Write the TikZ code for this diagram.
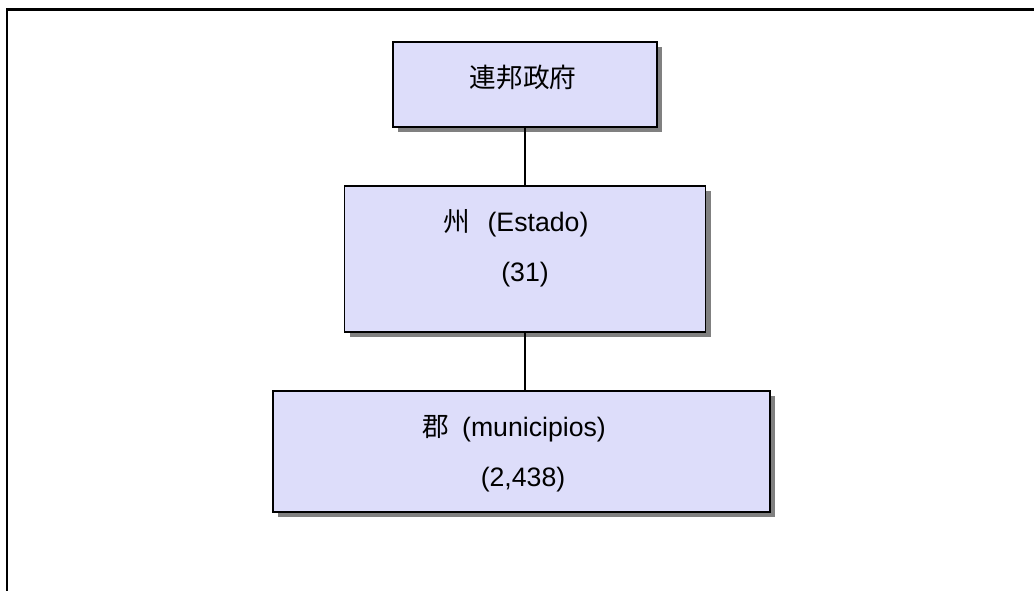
\documentclass[tikz,border=0pt]{standalone}
\usepackage{fontspec}
\setmainfont{Liberation Sans}
\newfontfamily\cjk{Noto Sans CJK JP}
\usetikzlibrary{shadows}
\definecolor{boxfill}{RGB}{221,221,250}
\definecolor{shadegray}{RGB}{128,128,128}
\tikzset{
  orgbox/.style={draw=black, line width=1.4pt, fill=boxfill, inner sep=0pt,
    drop shadow={shadow xshift=3.75pt, shadow yshift=-3.75pt, fill=shadegray, opacity=1}},
  lbl/.style={inner sep=0pt, font=\fontsize{20}{24}\selectfont},
  link/.style={line width=1.2pt},
  framestyle/.style={line width=1.6pt, line cap=rect}
}
\begin{document}
\begin{tikzpicture}[x=0.75pt,y=-0.75pt]
\useasboundingbox (0,0) rectangle (1034,590);
\coordinate (fa) at (7,592);
\coordinate (fb) at (7,9.5);
\coordinate (fc) at (1036,9.5);
\draw[framestyle] (fa) -- (fb) -- (fc);

\node[orgbox, minimum width=198.2pt, minimum height=63.75pt] (b1) at (525,84.5) {};
\node[orgbox, minimum width=270.75pt, minimum height=110pt] (b2) at (525,259) {};
\node[orgbox, minimum width=373pt, minimum height=90.75pt] (b3) at (521.3,451.5) {};

\draw[link] (b1.south) -- (b2.north);
\draw[link] (b2.south) -- (b2.south |- b3.north);

\node[lbl] (t1) at (523,77) {\cjk 連邦政府};
\node[lbl] (t2a) at (516,223) {{\cjk 州}\hspace{13pt}(Estado)};
\node[lbl] (t2b) at (525,275) {(31)};
\node[lbl] (t3a) at (514,429) {{\cjk 郡}\hspace{10pt}(municipios)};
\node[lbl] (t3b) at (523,480) {(2,438)};
\end{tikzpicture}
\end{document}
